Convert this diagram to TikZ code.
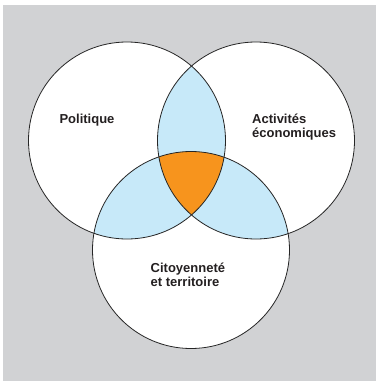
\documentclass[tikz,border=0pt]{standalone}
\usepackage{fontspec}
\setmainfont{Liberation Sans}
\definecolor{bggray}{HTML}{D1D2D4}
\definecolor{lensblue}{HTML}{C7E9F9}
\definecolor{coreorange}{HTML}{F7941D}
\definecolor{textgray}{HTML}{231F20}

\begin{document}
\begin{tikzpicture}[x=1pt,y=-1pt,
					ring/.style={draw=black!85, line width=0.8pt},
					venntext/.style={font=\bfseries\fontsize{13}{14.3}\selectfont, text=textgray, align=left, inner sep=0pt},
					]
					\useasboundingbox (0,0) rectangle (376,381);
					\fill[bggray] (3,5) rectangle (376,381);
					%Centres
					\coordinate (pol) at (127,140.5);
					\coordinate (eco) at (256,140.5);
					\coordinate (cit) at (191,250);
					\def\rad{98.5pt}
					
					%Discs
					\foreach \c in {pol,eco,cit}
						\fill[white] (\c) circle[radius=\rad];
					
					%Overlaps
					\begin{scope}
						\clip (pol) circle[radius=\rad];
						\fill[lensblue] (eco) circle[radius=\rad];
						\fill[lensblue] (cit) circle[radius=\rad];
					\end{scope}
					\begin{scope}
						\clip (eco) circle[radius=\rad];
						\fill[lensblue] (cit) circle[radius=\rad];
					\end{scope}
					\begin{scope}
						\clip (pol) circle[radius=\rad];
						\clip (eco) circle[radius=\rad];
						\fill[coreorange] (cit) circle[radius=\rad];
					\end{scope}
					
					%Outlines
					\foreach \c in {pol,eco,cit}
						\draw[ring] (\c) circle[radius=\rad];
					
					%Labels
					\node[venntext]              (politique)   at (87,120)    {Politique};
					\node[venntext, anchor=west] (activites)   at (252,127)   {Activités\\économiques};
					\node[venntext, anchor=west] (citoyennete) at (150.5,275) {Citoyenneté\\et territoire};
				\end{tikzpicture}
\end{document}
